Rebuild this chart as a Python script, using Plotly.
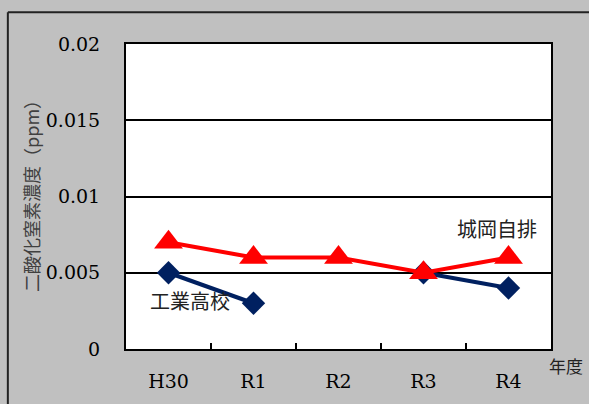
import plotly.graph_objects as go

years = ["H30", "R1", "R2", "R3", "R4"]
kogyo = [0.005, 0.003, None, 0.005, 0.004]
shirooka = [0.007, 0.006, 0.006, 0.005, 0.006]
y_ticks = [0, 0.005, 0.01, 0.015, 0.02]
y_tick_labels = ["0", "0.005", "0.01", "0.015", "0.02"]
y_title = "二酸化窒素濃度（ppm）"

SERIF = "DejaVu Serif"
JP = "Noto Sans CJK JP"

fig = go.Figure()
fig.add_trace(go.Scatter(
    x=years, y=kogyo, mode="lines+markers", name="工業高校",
    line=dict(color="#002060", width=4), connectgaps=False,
    marker=dict(symbol="diamond", size=18, color="#002060"),
))
fig.add_trace(go.Scatter(
    x=years, y=shirooka, mode="lines+markers", name="城岡自排",
    line=dict(color="#FF0000", width=4),
    marker=dict(symbol="triangle-up", size=25, color="#FF0000"),
))

fig.update_layout(
    width=589, height=404,
    paper_bgcolor="#C0C0C0", plot_bgcolor="#FFFFFF",
    margin=dict(l=126, r=38, t=44, b=53),
    showlegend=False,
    xaxis=dict(
        type="category", range=[-0.5, 4.5],
        showgrid=False, showline=True, linecolor="#000000", linewidth=2, mirror=True,
        ticks="inside", tickson="boundaries", ticklen=6, tickwidth=2, tickcolor="#000000",
        ticklabelstandoff=14,
        tickfont=dict(family=SERIF, size=19, color="#000000"),
    ),
    yaxis=dict(
        range=[0, 0.02], tickvals=y_ticks, ticktext=y_tick_labels,
        showgrid=True, gridcolor="#000000", gridwidth=1.5,
        zeroline=False,
        showline=True, linecolor="#000000", linewidth=2, mirror=True,
        ticks="", ticklabelstandoff=20,
        tickfont=dict(family=SERIF, size=19, color="#000000"),
    ),
    annotations=[
        dict(x=-0.2235, y=0.515, xref="paper", yref="paper", text=y_title, showarrow=False,
             textangle=-90, xanchor="center", yanchor="middle",
             font=dict(family=JP, size=18, color="#404040")),
        dict(x=0.25, y=0.0032, xref="x", yref="y", text="工業高校", showarrow=False,
             font=dict(family=JP, size=20, color="#222222")),
        dict(x=3.86, y=0.0079, xref="x", yref="y", text="城岡自排", showarrow=False,
             font=dict(family=JP, size=20, color="#222222")),
        dict(x=1.035, y=-0.1, xref="paper", yref="paper", text="年度", showarrow=False,
             xanchor="center", font=dict(family=JP, size=17, color="#222222")),
    ],
    shapes=[
        dict(type="line", xref="paper", yref="paper", x0=-0.278, x1=1.2, y0=1.104, y1=1.104,
             line=dict(color="#222222", width=2)),
        dict(type="line", xref="paper", yref="paper", x0=-0.278, x1=-0.278, y0=1.104, y1=-0.3,
             line=dict(color="#222222", width=2)),
    ],
)

fig.write_html(
    "out.html",
    config={"displayModeBar": False},
    post_script="document.body.style.margin='0';document.body.style.overflow='hidden';",
)
